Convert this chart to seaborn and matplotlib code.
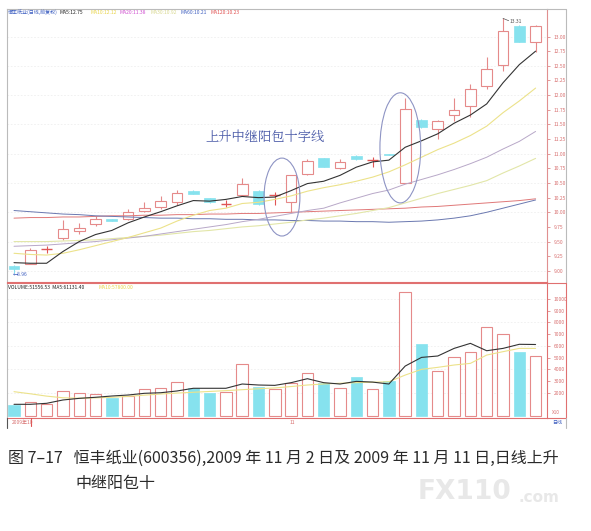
import numpy as np
import pandas as pd
import seaborn as sns
import matplotlib
matplotlib.use("Agg")
import matplotlib.pyplot as plt
from matplotlib.patches import Ellipse
from matplotlib.lines import Line2D

# daily candles, 600356, 2009-09-30 .. 2009-11-13
opens = [9.09, 9.12, 9.36, 9.56, 9.68, 9.80, 9.88, 9.89, 10.03, 10.09,
         10.18, 10.37, 10.24, 10.13, 10.29, 10.37, 10.28, 10.17, 10.66, 10.92,
         10.76, 10.96, 10.89, 11.00, 10.50, 11.58, 11.42, 11.66, 11.82, 12.15,
         12.51, 13.18, 12.91]
closes = [9.04, 9.35, 9.37, 9.72, 9.74, 9.88, 9.86, 10.01, 10.08, 10.20,
          10.33, 10.32, 10.17, 10.14, 10.49, 10.14, 10.29, 10.63, 10.87, 10.78,
          10.86, 10.91, 10.90, 10.98, 11.77, 11.45, 11.56, 11.74, 12.10, 12.45,
          13.09, 12.91, 13.18]
highs = [9.10, 9.39, 9.43, 9.86, 9.82, 9.93, 9.89, 10.05, 10.17, 10.28,
         10.38, 10.38, 10.25, 10.21, 10.58, 10.38, 10.35, 10.63, 10.91, 10.93,
         10.91, 10.97, 10.95, 11.00, 11.95, 11.59, 11.58, 11.95, 12.19, 12.65,
         13.31, 13.19, 13.19]
lows = [8.96, 9.11, 9.31, 9.53, 9.63, 9.76, 9.85, 9.87, 10.01, 10.06,
        10.13, 10.31, 10.16, 10.09, 10.27, 10.13, 10.13, 10.00, 10.64, 10.77,
        10.74, 10.90, 10.78, 10.97, 10.50, 11.44, 11.25, 11.55, 11.63, 12.10,
        12.42, 12.90, 12.74]
volumes = [940, 1220, 1030, 2160, 1940, 1850, 1510, 1740, 2280, 2420,
           2880, 2370, 1990, 2020, 4420, 2450, 2340, 2850, 3650, 2850,
           2370, 3330, 2310, 3020, 10570, 6150, 3850, 5070, 5500, 7580,
           6980, 5500, 5130]

ma5 = [9.14, 9.13, 9.13, 9.33, 9.50, 9.62, 9.69, 9.82, 9.92, 10.01,
       10.11, 10.20, 10.19, 10.22, 10.27, 10.25, 10.26, 10.37, 10.49, 10.53,
       10.63, 10.77, 10.86, 10.89, 11.11, 11.22, 11.34, 11.52, 11.66, 11.85,
       12.21, 12.52, 12.75]
ma10 = [9.30, 9.28, 9.27, 9.30, 9.36, 9.43, 9.50, 9.57, 9.65, 9.73,
        9.85, 9.95, 10.03, 10.07, 10.15, 10.17, 10.22, 10.28, 10.36, 10.42,
        10.47, 10.53, 10.60, 10.69, 10.81, 10.94, 11.07, 11.18, 11.31, 11.47,
        11.70, 11.90, 12.12]
ma20 = [9.42, 9.43, 9.44, 9.46, 9.48, 9.50, 9.53, 9.56, 9.59, 9.63,
        9.67, 9.71, 9.75, 9.79, 9.84, 9.88, 9.93, 9.98, 10.03, 10.07,
        10.16, 10.24, 10.32, 10.38, 10.48, 10.56, 10.64, 10.73, 10.83, 10.94,
        11.08, 11.21, 11.38]
ma30 = [9.50, 9.50, 9.50, 9.51, 9.52, 9.53, 9.55, 9.57, 9.59, 9.61,
        9.64, 9.67, 9.69, 9.72, 9.75, 9.77, 9.80, 9.83, 9.87, 9.90,
        9.94, 9.98, 10.03, 10.08, 10.16, 10.24, 10.32, 10.39, 10.46, 10.54,
        10.67, 10.79, 10.92]
ma60 = [10.03, 10.01, 9.99, 9.97, 9.96, 9.94, 9.93, 9.92, 9.91, 9.90,
        9.90, 9.89, 9.89, 9.88, 9.88, 9.87, 9.87, 9.86, 9.86, 9.85,
        9.85, 9.84, 9.84, 9.83, 9.84, 9.85, 9.87, 9.90, 9.94, 10.00,
        10.07, 10.14, 10.21]
ma120 = [9.90, 9.91, 9.91, 9.92, 9.92, 9.93, 9.94, 9.94, 9.95, 9.95,
         9.96, 9.96, 9.97, 9.97, 9.98, 9.98, 9.99, 10.00, 10.01, 10.02,
         10.03, 10.04, 10.05, 10.06, 10.07, 10.09, 10.10, 10.12, 10.14, 10.16,
         10.18, 10.20, 10.23]
vol_ma5 = [1000, 1000, 1085, 1370, 1510, 1600, 1710, 1795, 1940, 1990,
           2140, 2370, 2370, 2370, 2735, 2650, 2620, 2850, 3190, 2850,
           2735, 2960, 2900, 2735, 4270, 5010, 5130, 5780, 6210, 5580,
           5780, 6130, 6113]
vol_ma10 = [2080, 1900, 1700, 1560, 1520, 1550, 1600, 1680, 1780, 1880,
            1960, 2030, 2100, 2170, 2250, 2330, 2400, 2520, 2650, 2740,
            2800, 2850, 2890, 2930, 3500, 3990, 4160, 4360, 4500, 5210,
            5500, 5780, 5780]

price_ticks = ['9.00', '9.25', '9.50', '9.75', '10.00', '10.25', '10.50', '10.75',
               '11.00', '11.25', '11.50', '11.75', '12.00', '12.25', '12.50',
               '12.75', '13.00']
vol_ticks = ['2000', '3000', '4000', '5000', '6000', '7000', '8000', '9000', '10000']

legend_parts = [('恒丰纸业(日线,前复权)', '#3a5cc0'), ('MA5:12.75', '#222222'),
                ('MA10:12.12', '#e8d44a'), ('MA20:11.38', '#d050d0'),
                ('MA30:10.92', '#d8d890'), ('MA60:10.21', '#4060c0'),
                ('MA120:10.23', '#e05050')]
vol_legend_parts = [('VOLUME:51556.53  MA5:61131.40', '#222222'),
                    ('MA10:57800.00', '#e8d44a')]

caption1 = '图 7–17   恒丰纸业(600356),2009 年 11 月 2 日及 2009 年 11 月 11 日,日线上升'
caption2 = '中继阳包十'
note = '上升中继阳包十字线'

UP = '#e58a8a'
DOWN = '#86e2ee'
DOJI = '#e05555'

sns.set_theme(style='white')
plt.rcParams['font.family'] = ['Noto Sans CJK SC', 'DejaVu Sans']
plt.rcParams['axes.unicode_minus'] = False

W, H = 591, 531
fig = plt.figure(figsize=(W / 100, H / 100), dpi=100)
ax_p = fig.add_axes([7 / W, 1 - 282 / H, 540 / W, 273 / H])
ax_v = fig.add_axes([7 / W, 1 - 418 / H, 540 / W, 135 / H])

idx = np.arange(len(closes))
df = pd.DataFrame({'i': idx, 'open': opens, 'close': closes, 'high': highs,
                   'low': lows, 'vol': volumes})
df['up'] = df['close'] >= df['open']
df['doji'] = (df['close'] - df['open']).abs() < 0.015

# price panel
for p in price_ticks[::2]:
    ax_p.axhline(float(p), color='#efefef', lw=0.6, ls=(0, (2, 2)), zorder=0)

for r in df.itertuples():
    if r.doji and r.up:
        ax_p.vlines(r.i, r.low, r.high, color=DOJI, lw=0.8, zorder=2)
        ax_p.hlines(r.close, r.i - 0.33, r.i + 0.33, color=DOJI, lw=1.0, zorder=3)
    elif r.up:
        ax_p.vlines(r.i, r.low, r.high, color=UP, lw=0.8, zorder=2)
        ax_p.bar(r.i, r.close - r.open, bottom=r.open, width=0.66,
                 facecolor='white', edgecolor=UP, linewidth=0.8, zorder=3)
    else:
        ax_p.vlines(r.i, r.low, r.high, color=DOWN, lw=0.8, zorder=2)
        h = max(r.open - r.close, 0.03)
        ax_p.bar(r.i, h, bottom=r.open - h, width=0.66,
                 facecolor=DOWN, edgecolor=DOWN, linewidth=0.5, zorder=3)

ma_styles = [(ma120, '#e07878', 0.7), (ma60, '#6a78b0', 0.7), (ma30, '#e2e6a8', 0.8),
             (ma20, '#b8a8c8', 0.7), (ma10, '#ece28a', 0.8), (ma5, '#333333', 0.8)]
for vals, col, lw in ma_styles:
    sns.lineplot(x=idx, y=vals, ax=ax_p, color=col, linewidth=lw, zorder=4)

ax_p.set_xlim(-0.43, 32.7)
ax_p.set_ylim(8.81, 13.47)
ax_p.yaxis.tick_right()
ax_p.set_yticks([float(t) for t in price_ticks])
ax_p.set_yticklabels(price_ticks)
ax_p.tick_params(axis='y', right=True, length=2, width=0.5, colors='#d87070',
                 labelsize=3.6, pad=3)
ax_p.set_xticks([])
ax_p.set_xlabel('')
ax_p.set_ylabel('')
for side, col in [('left', '#bbbbbb'), ('top', '#bbbbbb'), ('right', '#e09090'),
                  ('bottom', '#e07070')]:
    ax_p.spines[side].set_color(col)
    ax_p.spines[side].set_linewidth(0.8)

# top legend of the price panel
xs = [0.002, 0.098, 0.154, 0.209, 0.265, 0.322, 0.376]
for (txt, col), x in zip(legend_parts, xs):
    ax_p.text(x, 0.988, txt, transform=ax_p.transAxes, fontsize=3.6, color=col,
              ha='left', va='center')

# annotations
ax_p.text(15.4, 11.29, note, fontsize=9.5, color='#4a5aa8', ha='center',
          va='center', family=['Noto Serif CJK SC', 'Noto Sans CJK SC', 'DejaVu Sans'])
for cx, cy, ew, eh in [(16.44, 10.26, 2.2, 1.33), (23.7, 11.10, 2.5, 1.88)]:
    ax_p.add_patch(Ellipse((cx, cy), ew, eh, fill=False, edgecolor='#8e94c4',
                           lw=0.8, zorder=6))
top_i = int(np.argmax(highs))
ax_p.plot([top_i, top_i + 0.35], [highs[top_i], highs[top_i] - 0.04],
          color='#555555', lw=0.5)
ax_p.text(top_i + 0.4, highs[top_i] - 0.05, f'{highs[top_i]:.2f}', fontsize=3.6,
          color='#555555', ha='left', va='center')
low_i = int(np.argmin(lows))
ax_p.text(low_i - 0.1, lows[low_i] - 0.02, f'←{lows[low_i]:.2f}', fontsize=3.6,
          color='#4060c0', ha='left', va='center')

# volume panel
for v in vol_ticks[::2]:
    ax_v.axhline(float(v), color='#efefef', lw=0.6, ls=(0, (2, 2)), zorder=0)
for r in df.itertuples():
    if r.up:
        ax_v.bar(r.i, r.vol, width=0.7, facecolor='white', edgecolor=UP,
                 linewidth=0.8, zorder=2)
    else:
        ax_v.bar(r.i, r.vol, width=0.7, facecolor=DOWN, edgecolor=DOWN,
                 linewidth=0.5, zorder=2)
sns.lineplot(x=idx, y=vol_ma10, ax=ax_v, color='#ece28a', linewidth=0.8, zorder=3)
sns.lineplot(x=idx, y=vol_ma5, ax=ax_v, color='#333333', linewidth=0.8, zorder=4)

ax_v.set_xlim(-0.43, 32.7)
ax_v.set_ylim(-170, 11370)
ax_v.yaxis.tick_right()
ax_v.set_yticks([float(t) for t in vol_ticks])
ax_v.set_yticklabels(vol_ticks)
ax_v.tick_params(axis='y', right=True, length=2, width=0.5, colors='#d87070',
                 labelsize=3.6, pad=3)
ax_v.set_xticks([])
ax_v.set_xlabel('')
ax_v.set_ylabel('')
for side, col in [('left', '#bbbbbb'), ('top', '#e07070'), ('right', '#e07070'),
                  ('bottom', '#e07070')]:
    ax_v.spines[side].set_color(col)
    ax_v.spines[side].set_linewidth(0.8)
ax_v.text(0.002, 0.97, vol_legend_parts[0][0], transform=ax_v.transAxes,
          fontsize=3.6, color=vol_legend_parts[0][1], ha='left', va='center')
ax_v.text(0.17, 0.97, vol_legend_parts[1][0], transform=ax_v.transAxes,
          fontsize=3.6, color=vol_legend_parts[1][1], ha='left', va='center')

# frame around right label column
def px_line(x0, y0, x1, y1, col):
    fig.add_artist(Line2D([x0 / W, x1 / W], [1 - y0 / H, 1 - y1 / H],
                          color=col, lw=0.8))

px_line(547, 9, 566, 9, '#bbbbbb')
px_line(566, 9, 566, 283, '#bbbbbb')
px_line(547, 283, 566, 283, '#e07070')
px_line(566, 283, 566, 418, '#e07070')
px_line(547, 418, 566, 418, '#e07070')
px_line(7, 418, 7, 428, '#555555')
px_line(566, 418, 566, 428, '#bbbbbb')
px_line(30.7, 418, 30.7, 426, '#e05050')
fig.text(556 / W, 1 - 413 / H, 'X10', fontsize=3.4, color='#d87070',
         ha='center', va='center')

# date row
fig.text(12 / W, 1 - 423 / H, '2009年10', fontsize=3.6, color='#d87070',
         ha='left', va='center')
fig.text(292 / W, 1 - 423 / H, '11', fontsize=3.6, color='#d87070',
         ha='center', va='center')
fig.text(557 / W, 1 - 423 / H, '日线', fontsize=3.6, color='#4060c0',
         ha='center', va='center')

# caption and watermark
fig.text(418 / W, 1 - 492 / H, 'FX110', fontsize=19, color='#e8e8e8',
         fontweight='bold', ha='left', va='center', family='DejaVu Sans')
fig.text(518 / W, 1 - 497 / H, '.com', fontsize=11, color='#e8e8e8',
         fontweight='bold', ha='left', va='center', family='DejaVu Sans')
fig.text(8 / W, 1 - 458 / H, caption1, fontsize=11.5, color='#2a2a2a',
         ha='left', va='center')
fig.text(75 / W, 1 - 483 / H, caption2, fontsize=11.5, color='#2a2a2a',
         ha='left', va='center')

fig.savefig('out.png', dpi=100, facecolor='white')
